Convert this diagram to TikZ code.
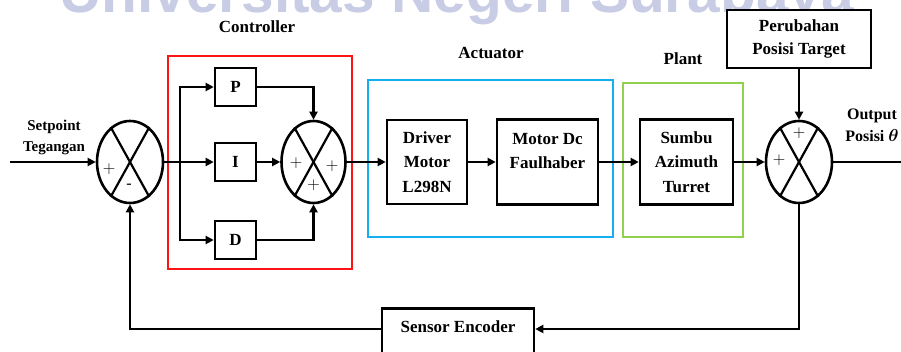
\documentclass[tikz,border=0pt]{standalone}
\usepackage{amsmath,amssymb}
\usepackage{fontspec}
\setmainfont{Liberation Serif}
\newfontfamily\wmfont{Liberation Sans}
\usepackage{xcolor}
\usepackage{tikz}
\usetikzlibrary{arrows.meta,positioning,calc,shapes.geometric}
\definecolor{ctrlred}{RGB}{255,20,20}
\definecolor{actblue}{RGB}{20,175,240}
\definecolor{plantgreen}{RGB}{146,208,80}
\definecolor{wmgray}{RGB}{200,204,228}

\begin{document}
\begin{tikzpicture}[
    x=1pt,y=-1pt,
    >={Triangle[length=8pt,width=8pt]},
    line/.style={line width=2.6pt,draw=black},
    flow/.style={line,->},
    block/.style={draw=black,line width=2.6pt,align=center,inner sep=0pt,
      font=\fontsize{17}{24.5}\selectfont\bfseries},
    summer/.style={ellipse,draw=black,line width=2.6pt,inner sep=0pt,
      minimum width=66pt,minimum height=82pt},
    cross/.style={line width=2.2pt},
    sign/.style={inner sep=0pt,font=\fontsize{16}{16}\selectfont},
    groupbox/.style={line width=2.6pt},
    grouplabel/.style={font=\fontsize{17}{20}\selectfont\bfseries},
    sidelabel/.style={align=center,font=\fontsize{15}{21}\selectfont\bfseries}
  ]
    \clip (0,0) rectangle (901,351);

    % watermark
    \node[anchor=base west,inner sep=0pt,text=wmgray,
      font=\fontsize{58.6}{60}\selectfont\wmfont\bfseries] (wmark) at (59,12)
      {Universitas Negeri Surabaya};

    % group frames
    \draw[groupbox,draw=ctrlred] (168,56) rectangle (352,269);
    \draw[groupbox,draw=actblue] (368,80) rectangle (613,237);
    \draw[groupbox,draw=plantgreen] (623,83) rectangle (743,237);
    \node[grouplabel] (ctrllbl) at (257,27) {Controller};
    \node[grouplabel] (actlbl) at (491,53) {Actuator};
    \node[grouplabel] (plantlbl) at (683,59) {Plant};

    % summing points
    \node[summer] (s1) at (130,162) {};
    \node[summer,minimum width=64pt] (s2) at (313.5,162) {};
    \node[summer] (s3) at (799,162) {};
    \foreach \s in {s1,s2,s3}{
      \draw[cross] (\s.119) -- (\s.-61);
      \draw[cross] (\s.61) -- (\s.-119);
    }
    \node[sign] (s1p) at ($(s1)+(-21,7)$) {$+$};
    \node[sign] (s1m) at ($(s1)+(-1,24)$) {-};
    \node[sign] (s2a) at ($(s2)+(-17.5,1)$) {$+$};
    \node[sign] (s2b) at ($(s2)+(18.5,4)$) {$+$};
    \node[sign] (s2c) at ($(s2)+(0,23)$) {$+$};
    \node[sign] (s3a) at ($(s3)+(0,-29)$) {$+$};
    \node[sign] (s3b) at ($(s3)+(-20,-2)$) {$+$};

    % PID blocks
    \node[block,minimum width=41pt,minimum height=38pt] (P) at (235.5,87) {P};
    \node[block,minimum width=41pt,minimum height=38pt] (I) at (235.5,162) {I};
    \node[block,minimum width=41pt,minimum height=38pt] (D) at (235.5,240) {D};

    % actuator, plant, disturbance, sensor
    \node[block,minimum width=80pt,minimum height=84pt] (driver) at (427,162)
      {Driver\\Motor\\L298N};
    \node[block,minimum width=101pt,minimum height=85pt,text depth=22pt] (motor)
      at (547.5,162) {Motor Dc\\Faulhaber};
    \node[block,minimum width=93pt,minimum height=85pt] (sumbu) at (686.5,162)
      {Sumbu\\Azimuth\\Turret};
    \node[block,fill=white,minimum width=144pt,minimum height=58pt] (perub) at (799,39)
      {Perubahan\\[-2pt]Posisi Target};
    \node[block,minimum width=152pt,text depth=20pt,inner ysep=12pt,
      anchor=north] (sensor) at (458,307) {Sensor Encoder};

    \node[sidelabel] (setpt) at (54,137) {Setpoint\\Tegangan};
    \node[sidelabel,font=\fontsize{16}{22}\selectfont\bfseries] (outlbl) at (872,125)
      {Output\\Posisi $\boldsymbol{\theta}$};

    % forward path
    \coordinate (inp) at (10,162);
    \coordinate (jn) at (180,162);
    \coordinate (outp) at (901,162);
    \draw[flow] (inp) -- (s1);
    \draw[flow] (s1) -- (I);
    \draw[flow] (jn) |- (P);
    \draw[flow] (jn) |- (D);
    \draw[flow] (I) -- (s2);
    \draw[flow] (P) -| (s2);
    \draw[flow] (D) -| (s2);
    \draw[flow] (s2) -- (driver);
    \draw[flow] (driver) -- (motor);
    \draw[flow] (motor) -- (sumbu);
    \draw[flow] (sumbu) -- (s3);
    \draw[line] (s3) -- (outp);
    \draw[flow] (perub) -- (s3);

    % feedback
    \coordinate (fbr) at (799,329);
    \draw[flow] (s3) |- (sensor.east |- fbr);
    \draw[flow] (sensor.west |- fbr) -| (s1);
\end{tikzpicture}
\end{document}
